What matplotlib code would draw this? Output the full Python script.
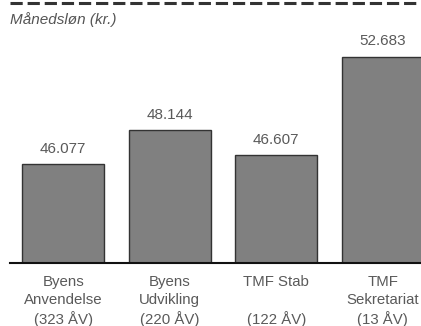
import matplotlib.pyplot as plt

categories = ["Byens\nAnvendelse", "Byens\nUdvikling", "TMF Stab\n", "TMF\nSekretariat"]
aarsvaerk = ["(323 ÅV)", "(220 ÅV)", "(122 ÅV)", "(13 ÅV)"]
loen = [46077, 48144, 46607, 52683]

plt.rcParams['font.family'] = ['Liberation Sans', 'DejaVu Sans']

fig = plt.figure(figsize=(4.21, 3.26), dpi=100)
W, H = 421, 326
ax = fig.add_axes([10 / W, 63 / H, 426 / W, (263 - 2.5) / H])

x = range(len(loen))
bars = ax.bar(x, loen, width=0.77, color="#808080", edgecolor="#333333", linewidth=1)

ax.set_xlim(-0.5, len(loen) - 0.5)
ax.set_ylim(40000, 56000)

for b, v in zip(bars, loen):
    txt = f"{v:,}".replace(",", ".")
    ax.annotate(txt, (b.get_x() + b.get_width() / 2, v), xytext=(0, 6),
                textcoords="offset points", ha="center", va="bottom",
                fontsize=11, color="#5a5a5a")

labels = [c + "\n" + a for c, a in zip(categories, aarsvaerk)]
ax.set_xticks(list(x))
ax.set_xticklabels(labels, fontsize=10.8, color="#5a5a5a", linespacing=1.36)
ax.tick_params(axis="x", length=0, pad=8.5)
ax.set_yticks([])

for s in ["left", "right", "top"]:
    ax.spines[s].set_visible(False)
ax.spines["bottom"].set_linewidth(1.5)
ax.spines["bottom"].set_color("#111111")

ax.axhline(56000, color="#333333", linewidth=2.2, linestyle=(0, (4, 1.6)), clip_on=False)

fig.text(10 / W, 1 - 20 / H, "Månedsløn (kr.)", fontsize=11, style="italic",
         color="#555555", ha="left", va="center")

fig.savefig("out.png", dpi=100)
